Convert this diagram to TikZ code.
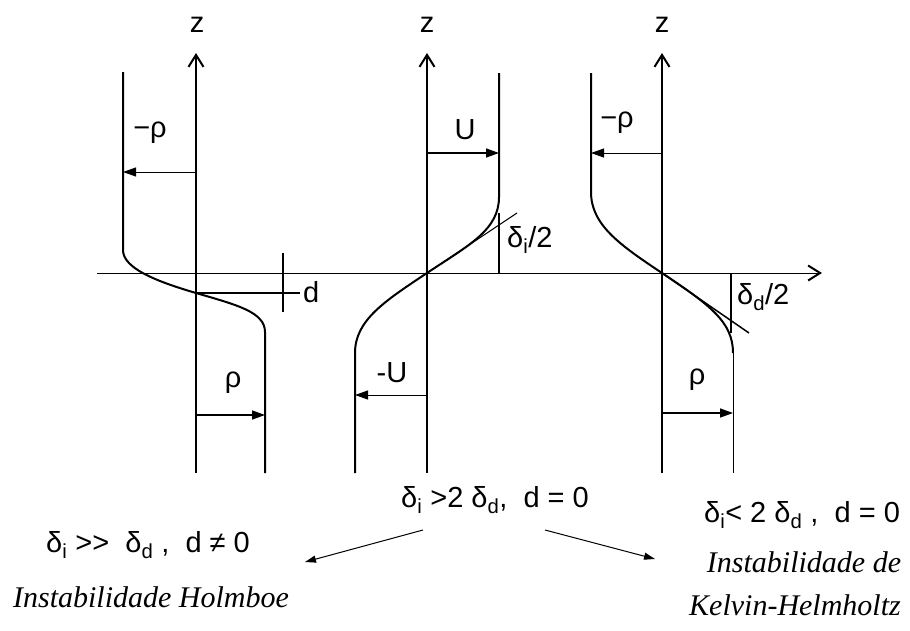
\documentclass[tikz,border=0pt]{standalone}
\usepackage{fontspec}
\setmainfont{Liberation Sans}
\newfontfamily\capfont{Liberation Serif}
\usetikzlibrary{arrows.meta}
\newcommand{\dsub}[1]{δ\textsubscript{#1}}

\begin{document}
\begin{tikzpicture}[x=1pt,y=-1pt,>={Triangle[length=13pt,width=9pt]},
  prof/.style={line width=2pt},
  arr/.style={line width=1.5pt,->},
  lbl/.style={inner sep=0pt,font=\fontsize{29}{31}\selectfont},
  capt/.style={inner sep=0pt,font=\fontsize{30}{32}\selectfont\capfont\itshape},
  zax/.style={line width=2pt,-{Straight Barb[length=12pt,width=15pt]}}]
  \useasboundingbox (0,0) rectangle (910,630);
  % common horizontal axis
  \draw[line width=1pt,-{Straight Barb[length=12pt,width=15pt,line width=2pt]}]
    (97,273) -- (822,273);

  % left panel: density, offset d
  \draw[zax] (196,473) -- (196,53);
  \node[lbl] (zl) at (197,25) {z};
  \draw[prof] (123,72) -- (123,250) .. controls (123,268) and (155,281) .. (196,293)
    .. controls (237,305) and (265,312) .. (265,332) -- (265,473);
  \draw[line width=1pt,->] (196,172) -- (123,172);
  \node[lbl] (rl1) at (150,133) {−ρ};
  \draw[arr] (196,415) -- (265,415);
  \node[lbl] (rl2) at (233,383) {ρ};
  \draw[line width=2pt] (196,293) -- (300,293);
  \draw[line width=1.5pt] (283,253) -- (283,312);
  \node[lbl,anchor=west] (dl) at (303,292) {d};

  % middle panel: velocity
  \draw[zax] (427,473) -- (427,53);
  \node[lbl] (zm) at (427,25) {z};
  \draw[prof] (499,73) -- (499,197) .. controls (499,230) and (469,245) .. (427,273)
    .. controls (385,301) and (355,320) .. (355,353) -- (355,473);
  \draw[line width=1pt] (427,273) -- (517,213);
  \draw[line width=1.5pt] (499,213) -- (499,273);
  \node[lbl,anchor=west] (di) at (507,240) {\dsub{i}/2};
  \draw[arr] (427,153) -- (499,153);
  \node[lbl] (um) at (465,130) {U};
  \draw[line width=1pt,->] (427,395) -- (355,395);
  \node[lbl] (umm) at (392,373) {-U};

  % right panel: density
  \draw[zax] (662,473) -- (662,53);
  \node[lbl] (zr) at (662,25) {z};
  \draw[prof] (591,73) -- (591,192) .. controls (591,225) and (620,245) .. (662,273)
    .. controls (710,305) and (733,322) .. (733,353);
  \draw[line width=1pt] (733,353) -- (733,473);
  \draw[line width=1.5pt] (662,273) -- (749,333);
  \draw[line width=1.5pt] (731,273) -- (731,333);
  \node[lbl,anchor=west] (dd) at (737,297) {\dsub{d}/2};
  \draw[line width=1pt,->] (662,153) -- (591,153);
  \node[lbl] (rr1) at (617,123) {−ρ};
  \draw[arr] (662,413) -- (733,413);
  \node[lbl] (rr2) at (697,380) {ρ};

  % regimes
  \node[lbl] (mid) at (495,500) {\dsub{i} >2 \dsub{d},\ \ d = 0};
  \node[lbl] (hol) at (148,545) {\dsub{i} >{}>\ \ \dsub{d} ,\ \ d ≠ 0};
  \node[capt] (holc) at (151,597) {Instabilidade Holmboe};
  \node[lbl] (kh) at (802,515) {\dsub{i}< 2 \dsub{d} ,\ \ d = 0};
  \node[capt] (khc1) at (804,562) {Instabilidade de};
  \node[capt] (khc2) at (795,605) {Kelvin-Helmholtz};
  \coordinate (la) at (423,530);
  \coordinate (lb) at (305,562);
  \coordinate (ra) at (545,530);
  \coordinate (rb) at (655,559);
  \draw[line width=1pt,-{Triangle[length=11pt,width=7pt]}] (la) -- (lb);
  \draw[line width=1pt,-{Triangle[length=11pt,width=7pt]}] (ra) -- (rb);
\end{tikzpicture}
\end{document}
